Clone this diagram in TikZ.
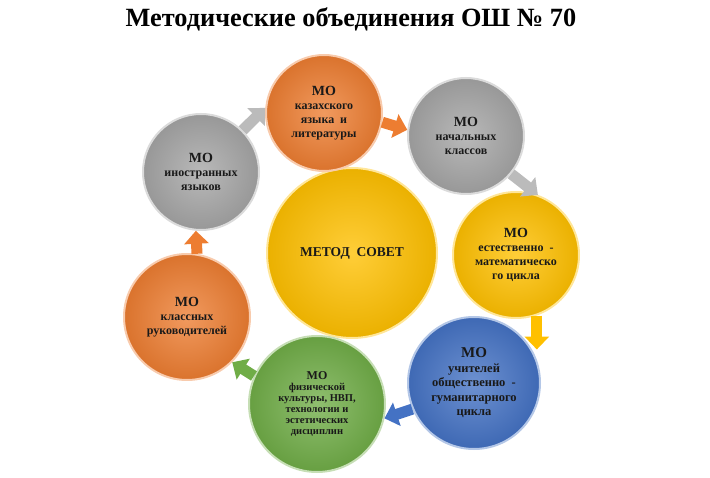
\documentclass[tikz,border=0pt]{standalone}
\usepackage{fontspec}
\setmainfont{Liberation Serif}
\usetikzlibrary{arrows.meta}

\definecolor{moorange}{HTML}{ED7D31}
\definecolor{mogray}{HTML}{A5A5A5}
\definecolor{moyellow}{HTML}{FFC000}
\definecolor{moblue}{HTML}{4472C4}
\definecolor{mogreen}{HTML}{70AD47}

\tikzset{
  mo/.style 2 args={circle, minimum size=#2, inner sep=0pt, align=center,
    font=\bfseries\fontsize{12}{13.8}\selectfont, text=black!90,
    shading=radial, inner color=#1!78!white, outer color=#1!92!black,
    draw=#1!40!white, line width=2pt},
  flow/.style={line width=11pt, draw=#1, -{Triangle[length=13pt,width=24pt]}},
}

\begin{document}
\begin{tikzpicture}[x=1pt, y=-1pt]
  \useasboundingbox (0, 0) rectangle (710, 478);

  \node[font=\bfseries\fontsize{26.3}{28}\selectfont] (title) at (351, 19) {Методические объединения ОШ № 70};

  \node[mo={moyellow}{170pt}] (sovet) at (352, 253) {\fontsize{13.5}{15}\selectfont МЕТОД\ \ СОВЕТ};
  \node[mo={moorange}{116pt}] (kaz) at (324, 113) {{\fontsize{14}{15}\selectfont МО}\\казахского\\языка\ \ и\\литературы};
  \node[mo={mogray}{116pt}] (nach) at (466, 136) {{\fontsize{14}{15}\selectfont МО}\\начальных\\классов};
  \node[mo={moyellow}{126pt}] (estm) at (516, 255) {{\fontsize{14}{18}\selectfont МО}\\естественно\ \ -\\математическо\\го цикла};
  \node[mo={moblue}{132pt}, font=\bfseries\fontsize{12.5}{14.5}\selectfont] (obsh) at (474, 383) {{\fontsize{15}{19}\selectfont МО}\\учителей\\общественно\ \ -\\гуманитарного\\цикла};
  \node[mo={mogreen}{136pt}, font=\bfseries\fontsize{10.5}{11}\selectfont] (fiz) at (317, 404) {{\fontsize{12}{15}\selectfont МО}\\физической\\культуры, НВП,\\технологии и\\эстетических\\дисциплин};
  \node[mo={moorange}{126pt}] (klass) at (187, 317) {{\fontsize{14}{18}\selectfont МО}\\классных\\руководителей};
  \node[mo={mogray}{116pt}] (inos) at (201, 172) {{\fontsize{14}{15}\selectfont МО}\\иностранных\\языков};

  \draw[flow=mogray!75] (inos.45) -- (kaz.175);
  \draw[flow=moorange] (kaz.-9) -- (nach.174);
  \draw[flow=mogray!75] (nach.-40) -- (estm.70);
  \draw[flow=moyellow] (estm.-71) -- (estm.-71 |- obsh.30);
  \draw[flow=moblue] (obsh.203) -- (fiz.-12);
  \draw[flow=mogreen] (fiz.156) -- (klass.-45);
  \draw[flow=moorange] (klass.81) -- (inos.-95);
\end{tikzpicture}
\end{document}
